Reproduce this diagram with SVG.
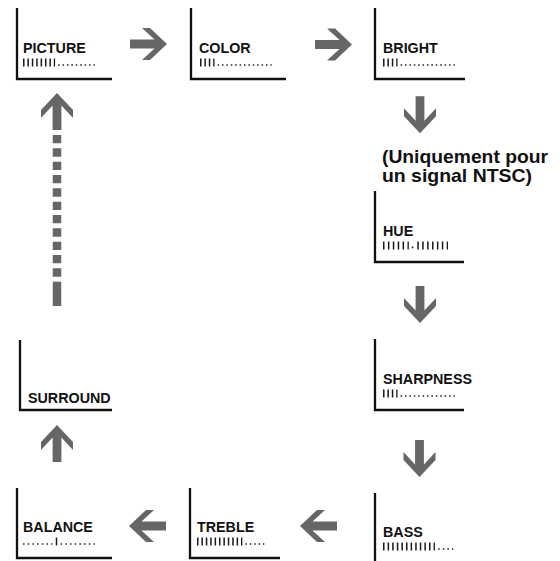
<svg xmlns="http://www.w3.org/2000/svg" xmlns:xlink="http://www.w3.org/1999/xlink" width="560" height="561" viewBox="0 0 560 561">
<style>
.ax{fill:none;stroke:#111;stroke-width:2.3}
.lb{font-family:"Liberation Sans",Arial,sans-serif;font-weight:bold;font-size:14.3px;fill:#111}
.note{font-family:"Liberation Sans",Arial,sans-serif;font-weight:bold;font-size:18.5px;fill:#111}
.tk{fill:none;stroke:#1a1a1a;stroke-width:8;stroke-dasharray:1.5 2.9}
.dt{fill:none;stroke:#222;stroke-width:1.7;stroke-dasharray:1.5 2.9}
.ar{fill:#666}
.dash{fill:none;stroke:#666;stroke-width:8.5}
</style>
<defs>
<path id="arr" d="M-37,-4.4 L-12.5,-4.4 L-25,-16 L-17,-16 L0,0 L-17,16 L-25,16 L-12.5,4.4 L-37,4.4 Z"/>
</defs>
<rect width="560" height="561" fill="#fff"/>

<g id="picture">
<path class="ax" d="M17,8 V79 H112"/>
<text class="lb" x="23" y="53">PICTURE</text>
<line class="tk" x1="23" y1="62.5" x2="55.1" y2="62.5"/>
<line class="dt" x1="58.2" y1="65" x2="94.7" y2="65"/>
</g>

<g id="color">
<path class="ax" d="M191,8 V79 H286"/>
<text class="lb" x="199" y="53">COLOR</text>
<line class="tk" x1="200" y1="62.5" x2="214.5" y2="62.5"/>
<line class="dt" x1="217.6" y1="65" x2="271.7" y2="65"/>
</g>

<g id="bright">
<path class="ax" d="M375,8 V79 H465"/>
<text class="lb" x="383" y="53">BRIGHT</text>
<line class="tk" x1="383" y1="62.5" x2="397.5" y2="62.5"/>
<line class="dt" x1="400.6" y1="65" x2="454.7" y2="65"/>
</g>

<g id="note">
<text class="note" x="382" y="163" textLength="166" lengthAdjust="spacingAndGlyphs">(Uniquement pour</text>
<text class="note" x="382" y="182" textLength="150" lengthAdjust="spacingAndGlyphs">un signal NTSC)</text>
</g>

<g id="hue">
<path class="ax" d="M375,191 V262 H464"/>
<text class="lb" x="383" y="236">HUE</text>
<line class="tk" style="stroke-dasharray:1.5 3.4" x1="383" y1="245.5" x2="408.8" y2="245.5"/>
<rect x="411.8" y="246.5" width="1.6" height="1.8" fill="#222"/>
<line class="tk" style="stroke-dasharray:1.5 3.4" x1="417.3" y1="245.5" x2="448" y2="245.5"/>
</g>

<g id="sharpness">
<path class="ax" d="M375,339 V410 H464"/>
<text class="lb" x="383" y="384">SHARPNESS</text>
<line class="tk" x1="383" y1="393.5" x2="397.5" y2="393.5"/>
<line class="dt" x1="400.6" y1="396" x2="454.7" y2="396"/>
</g>

<g id="bass">
<path class="ax" d="M375,493 V561"/>
<text class="lb" x="383" y="537">BASS</text>
<line class="tk" style="stroke-dasharray:1.5 3.1" x1="383" y1="546.5" x2="434.9" y2="546.5"/>
<line class="dt" style="stroke-dasharray:1.5 3.1" x1="438.2" y1="549" x2="453.3" y2="549"/>
</g>

<g id="treble">
<path class="ax" d="M190,488 V558 H280"/>
<text class="lb" x="197" y="532">TREBLE</text>
<line class="tk" x1="197" y1="541.5" x2="242.3" y2="541.5"/>
<line class="dt" x1="245.4" y1="544" x2="264.3" y2="544"/>
</g>

<g id="balance">
<path class="ax" d="M17,488 V558 H112"/>
<text class="lb" x="23" y="532">BALANCE</text>
<line class="dt" style="stroke-dasharray:1.5 3.2" x1="23" y1="544" x2="52.5" y2="544"/>
<line x1="56.5" y1="537.5" x2="56.5" y2="545.5" stroke="#1a1a1a" stroke-width="1.5"/>
<line class="dt" style="stroke-dasharray:1.5 3.2" x1="60.6" y1="544" x2="94.8" y2="544"/>
</g>

<g id="surround">
<path class="ax" d="M20,340 V410 H112"/>
<text class="lb" x="28" y="403">SURROUND</text>
</g>

<g id="connectors" class="ar">
<use xlink:href="#arr" transform="translate(167,44)"/>
<use xlink:href="#arr" transform="translate(352,44.5)"/>
<use xlink:href="#arr" transform="translate(420,133.3) rotate(90)"/>
<use xlink:href="#arr" transform="translate(420,323) rotate(90)"/>
<use xlink:href="#arr" transform="translate(419.5,477) rotate(90)"/>
<use xlink:href="#arr" transform="translate(300,526) rotate(180)"/>
<use xlink:href="#arr" transform="translate(129,526) rotate(180)"/>
<use xlink:href="#arr" transform="translate(57,425) rotate(-90)"/>
<use xlink:href="#arr" transform="translate(57,93) rotate(-90)"/>
<line class="dash" style="stroke-dasharray:8.33 5" x1="57" y1="135" x2="57" y2="277"/>
<line class="dash" x1="57" y1="281.7" x2="57" y2="306"/>
</g>
</svg>
